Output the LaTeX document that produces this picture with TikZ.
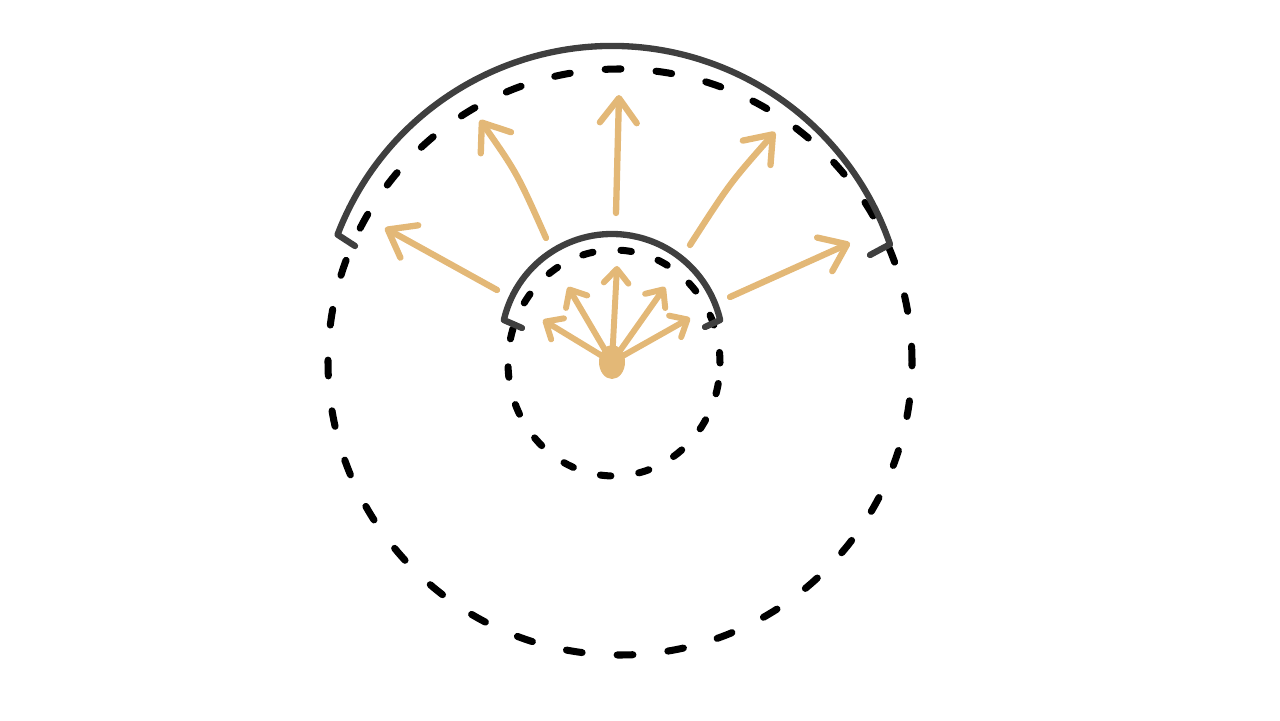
\documentclass[tikz,border=0pt]{standalone}
\usetikzlibrary{arrows.meta}
\definecolor{sand}{HTML}{E3B877}
\definecolor{pencil}{HTML}{3F3F3F}

\begin{document}
\begin{tikzpicture}[x=0.02cm,y=0.02cm,
  rim/.style={pencil, line width=3.6pt, line cap=round, line join=round},
  outerdash/.style={black, line width=4pt, line cap=round, dash pattern=on 9pt off 20pt},
  innerdash/.style={black, line width=4pt, line cap=round, dash pattern=on 6pt off 16pt},
  bigray/.style={sand, line width=3.6pt, line cap=round, -{Straight Barb[round,length=14pt,width=21pt]}},
  smallray/.style={sand, line width=3.4pt, line cap=round, -{Straight Barb[round,length=8pt,width=14pt]}}]

  \useasboundingbox (0,0) rectangle (1280,720);

  \coordinate (src) at (612,358);

  % dashed circles
  \draw[outerdash] (620,358) ellipse (292 and 293);
  \draw[innerdash] (614,357) ellipse (106 and 113);

  % solid arcs with the little end ticks
  \draw[rim] (355,474) -- ([shift={(159:294)}]612,380) arc[start angle=159, end angle=19, radius=294] -- (870,465);
  \draw[rim] (522,392) -- ([shift={(167:111)}]612,375) arc[start angle=167, end angle=13, radius=111] -- (705,393);

  % big rays between the arcs
  \coordinate (a1) at (497,430);
  \coordinate (a2) at (546,482);
  \coordinate (a3) at (616,507);
  \coordinate (a4) at (690,475);
  \coordinate (a5) at (730,423);
  \draw[bigray] (a1) -- (385,492);
  \draw[bigray] (a2) .. controls (517,547) .. (480,600);
  \draw[bigray] (a3) -- (619,625);
  \draw[bigray] (a4) .. controls (730,537) .. (775,588);
  \draw[bigray] (a5) -- (850,477);

  % small rays from the source
  \draw[smallray] (src) -- (543,400);
  \draw[smallray] (src) -- (568,433);
  \draw[smallray] (src) -- (617,454);
  \draw[smallray] (src) -- (665,433);
  \draw[smallray] (src) -- (690,402);

  \fill[sand] (src) ellipse (13 and 17);

\end{tikzpicture}
\end{document}
